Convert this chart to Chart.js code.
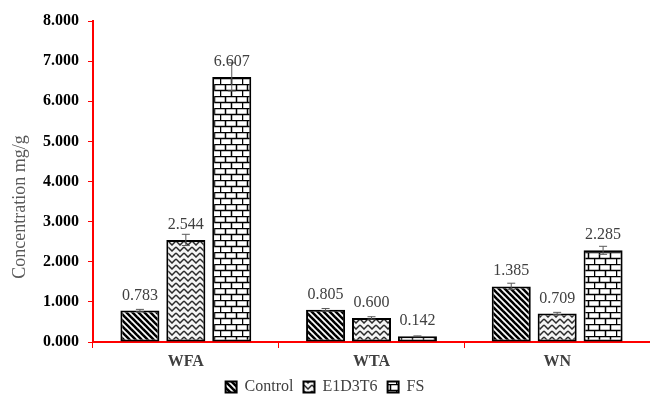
<!DOCTYPE html>
<html>
<head>
<meta charset="utf-8">
<script src="https://cdn.jsdelivr.net/npm/chart.js@4"></script>
<style>
html,body{margin:0;padding:0;background:#fff;}
#wrap{width:650px;height:395px;position:relative;}
</style>
</head>
<body>
<div id="wrap"><canvas id="c"></canvas></div>
<script>
const categories = ['WFA', 'WTA', 'WN'];
const seriesNames = ['Control', 'E1D3T6', 'FS'];
const controlValues = [0.783, 0.805, 1.385];
const e1d3t6Values = [2.544, 0.600, 0.709];
const fsValues = [6.607, 0.142, 2.285];
const controlErrors = [0.03, 0.03, 0.08];
const e1d3t6Errors = [0.14, 0.03, 0.03];
const fsErrors = [0.35, 0.01, 0.10];
const yTickValues = [0, 1, 2, 3, 4, 5, 6, 7, 8];
const yTitle = 'Concentration mg/g';

const SERIF = '"Liberation Serif", "Times New Roman", serif';

function makePattern(kind) {
  const c = document.createElement('canvas');
  const ctx = c.getContext('2d');
  if (kind === 'stripes') {
    c.width = 6; c.height = 6;
    ctx.fillStyle = '#fff'; ctx.fillRect(0, 0, 6, 6);
    ctx.strokeStyle = '#000'; ctx.lineWidth = 2.6;
    for (let o = -6; o <= 12; o += 6) {
      ctx.beginPath(); ctx.moveTo(o - 1, -1); ctx.lineTo(o + 7, 7); ctx.stroke();
    }
  } else if (kind === 'zigzag') {
    c.width = 8; c.height = 6;
    ctx.fillStyle = '#f4f4f4'; ctx.fillRect(0, 0, 8, 6);
    ctx.strokeStyle = '#2a2a2a'; ctx.lineWidth = 1.5;
    for (let y = -6; y <= 6; y += 6) {
      ctx.beginPath(); ctx.moveTo(0, y + 1); ctx.lineTo(4, y + 5); ctx.lineTo(8, y + 1); ctx.stroke();
    }
  } else {
    c.width = 22; c.height = 12;
    ctx.fillStyle = '#fff'; ctx.fillRect(0, 0, 22, 12);
    ctx.strokeStyle = '#000'; ctx.lineWidth = 1.5;
    ctx.beginPath();
    ctx.moveTo(0, 0.5); ctx.lineTo(22, 0.5);
    ctx.moveTo(0, 6.5); ctx.lineTo(22, 6.5);
    ctx.moveTo(5.5, 0); ctx.lineTo(5.5, 6.5);
    ctx.moveTo(16.5, 0); ctx.lineTo(16.5, 6.5);
    ctx.moveTo(0.5, 6.5); ctx.lineTo(0.5, 12);
    ctx.moveTo(11.5, 6.5); ctx.lineTo(11.5, 12);
    ctx.stroke();
  }
  return document.createElement('canvas').getContext('2d').createPattern(c, 'repeat');
}

const patterns = [makePattern('stripes'), makePattern('zigzag'), makePattern('brick')];
const valuesList = [controlValues, e1d3t6Values, fsValues];
const errorsList = [controlErrors, e1d3t6Errors, fsErrors];

const errorBarPlugin = {
  id: 'errorBars',
  afterDatasetsDraw(chart) {
    const ctx = chart.ctx;
    const y = chart.scales.y;
    ctx.save();
    chart.data.datasets.forEach((ds, di) => {
      const meta = chart.getDatasetMeta(di);
      meta.data.forEach((bar, i) => {
        const v = ds.data[i], e = errorsList[di][i];
        const yt = y.getPixelForValue(v + e), yb = y.getPixelForValue(v - e);
        ctx.strokeStyle = '#595959'; ctx.lineWidth = 1;
        ctx.beginPath();
        ctx.moveTo(bar.x, yt); ctx.lineTo(bar.x, yb);
        ctx.moveTo(bar.x - 4, yt); ctx.lineTo(bar.x + 4, yt);
        ctx.moveTo(bar.x - 4, yb); ctx.lineTo(bar.x + 4, yb);
        ctx.stroke();
      });
    });
    ctx.restore();
  }
};

const labelPlugin = {
  id: 'valueLabels',
  afterDraw(chart) {
    const ctx = chart.ctx;
    ctx.save();
    ctx.font = '16px ' + SERIF;
    ctx.fillStyle = '#404040';
    ctx.textAlign = 'center';
    ctx.textBaseline = 'alphabetic';
    chart.data.datasets.forEach((ds, di) => {
      const meta = chart.getDatasetMeta(di);
      meta.data.forEach((bar, i) => {
        ctx.fillText(ds.data[i].toFixed(3), bar.x, bar.y - 11);
      });
    });
    // y-axis title
    ctx.translate(20, 207);
    ctx.rotate(-Math.PI / 2);
    ctx.font = '18px ' + SERIF;
    ctx.fillStyle = '#595959';
    ctx.textBaseline = 'middle';
    ctx.fillText(yTitle, 0, 0);
    ctx.restore();
  }
};

const legendFitPlugin = {
  id: 'legendFit',
  beforeUpdate(chart) {
    const lg = chart.legend;
    if (lg && !lg._patchedFit) {
      const orig = lg.fit.bind(lg);
      lg.fit = function () { orig(); this.height = 26; };
      lg._patchedFit = true;
    }
  }
};

new Chart(document.getElementById('c'), {
  type: 'bar',
  data: {
    labels: categories,
    datasets: seriesNames.map((name, i) => ({
      label: name,
      data: valuesList[i],
      backgroundColor: patterns[i],
      borderColor: '#000',
      borderWidth: 2,
      borderSkipped: false,
      categoryPercentage: 0.742,
      barPercentage: 0.85
    }))
  },
  options: {
    responsive: true,
    maintainAspectRatio: false,
    animation: false,
    layout: { padding: { top: 21, right: 0, left: 0, bottom: 0 } },
    plugins: {
      tooltip: { enabled: false },
      legend: {
        position: 'bottom',
        labels: {
          font: { family: SERIF, size: 16 },
          color: '#404040',
          boxWidth: 11,
          boxHeight: 11,
          padding: 10
        }
      }
    },
    scales: {
      x: {
        grid: { display: true, drawOnChartArea: false, color: '#ff0000', tickLength: 6, lineWidth: 1 },
        border: { color: '#ff0000', width: 2 },
        ticks: { font: { family: SERIF, size: 16, weight: 'bold' }, color: '#404040', padding: 4 },
        afterFit(scale) { scale.height = 27; }
      },
      y: {
        min: 0, max: 8,
        afterBuildTicks(scale) { scale.ticks = yTickValues.map(v => ({ value: v })); },
        grid: { display: true, drawOnChartArea: false, color: '#ff0000', tickLength: 5, lineWidth: 1 },
        border: { color: '#ff0000', width: 2 },
        ticks: {
          font: { family: SERIF, size: 16, weight: 'bold' },
          color: '#000',
          padding: 9,
          callback: v => Number(v).toFixed(3)
        },
        title: { display: false },
        afterFit(scale) { scale.width = 93; }
      }
    }
  },
  plugins: [legendFitPlugin, errorBarPlugin, labelPlugin]
});
</script>
</body>
</html>
